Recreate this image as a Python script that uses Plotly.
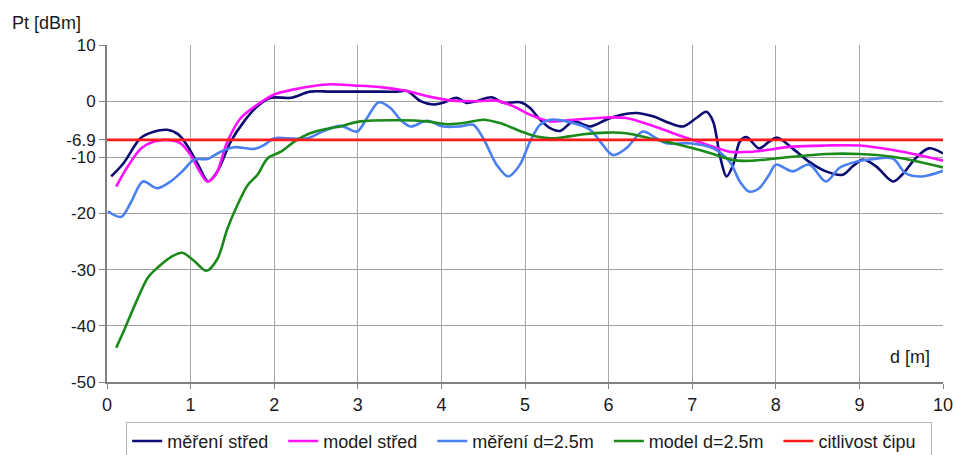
import plotly.graph_objects as go

# Transmit power vs. distance
mereni_stred_x = [0.05, 0.2, 0.4, 0.55, 0.72, 0.86, 0.98, 1.1, 1.21, 1.32, 1.48, 1.64, 1.8, 1.96,
                  2.2, 2.43, 2.67, 2.95, 3.2, 3.47, 3.59, 3.75, 3.9, 4.02, 4.18, 4.3, 4.42, 4.6,
                  4.74, 4.94, 5.06, 5.18, 5.3, 5.42, 5.58, 5.78, 5.97, 6.13, 6.33, 6.53, 6.73,
                  6.89, 7.05, 7.17, 7.25, 7.33, 7.41, 7.49, 7.57, 7.65, 7.8, 7.92, 8.02, 8.2,
                  8.4, 8.6, 8.8, 8.92, 9.04, 9.2, 9.4, 9.51, 9.67, 9.83, 10.0]
mereni_stred_y = [-13.4, -11.0, -6.6, -5.5, -5.1, -6.0, -8.4, -11.6, -14.3, -12.5, -7.2, -3.6, -0.9, 0.6,
                  0.6, 1.7, 1.7, 1.7, 1.7, 1.7, 1.8, 0.0, -0.6, -0.3, 0.6, -0.3, 0.0, 0.7,
                  -0.3, -0.2, -1.2, -3.3, -4.8, -5.3, -3.6, -4.5, -3.3, -2.5, -2.1, -2.7, -3.9,
                  -4.5, -3.0, -1.9, -3.6, -9.6, -13.4, -11.3, -7.2, -6.4, -8.4, -7.2, -6.5, -8.4,
                  -10.8, -12.5, -13.1, -11.6, -10.4, -11.6, -14.3, -13.1, -10.2, -8.4, -9.3]

model_stred_x = [0.11, 0.25, 0.41, 0.56, 0.72, 0.88, 1.0, 1.12, 1.2, 1.3, 1.44, 1.6, 1.8, 2.0,
                 2.24, 2.47, 2.67, 2.95, 3.27, 3.59, 3.83, 4.14, 4.46, 4.66, 4.86, 5.06, 5.3,
                 5.58, 5.97, 6.21, 6.49, 6.77, 7.01, 7.25, 7.45, 7.72, 8.2, 8.6, 9.0, 9.4, 9.71, 10.0]
model_stred_y = [-15.2, -11.6, -8.4, -7.2, -6.9, -7.5, -9.6, -12.8, -14.3, -13.1, -7.2, -3.0, -0.6, 1.2,
                 2.1, 2.7, 3.0, 2.8, 2.5, 1.8, 0.9, 0.1, 0.0, 0.1, -0.9, -2.4, -3.6,
                 -3.3, -2.9, -3.0, -4.2, -5.7, -6.9, -8.1, -9.0, -9.0, -8.1, -7.9, -7.9, -8.7, -9.6, -10.6]

mereni_d25_x = [0.01, 0.17, 0.29, 0.43, 0.6, 0.76, 0.92, 1.04, 1.2, 1.36, 1.52, 1.76, 1.88, 2.0,
                2.16, 2.4, 2.55, 2.79, 2.99, 3.11, 3.25, 3.39, 3.51, 3.63, 3.83, 4.02, 4.22,
                4.38, 4.5, 4.66, 4.8, 4.94, 5.06, 5.18, 5.3, 5.5, 5.78, 5.9, 6.05, 6.21, 6.41,
                6.57, 6.69, 6.97, 7.25, 7.45, 7.57, 7.68, 7.8, 7.92, 8.0, 8.2, 8.4, 8.6, 8.76,
                8.96, 9.12, 9.4, 9.55, 9.75, 10.0]
mereni_d25_y = [-19.6, -20.6, -17.9, -14.3, -15.5, -14.3, -12.2, -10.4, -10.3, -9.0, -8.2, -8.5, -7.8, -6.6,
                -6.6, -6.6, -5.6, -4.4, -5.4, -3.0, -0.2, -1.2, -3.3, -4.5, -3.5, -4.5, -4.5,
                -4.2, -6.6, -11.3, -13.4, -11.3, -7.2, -4.2, -3.3, -3.6, -5.1, -7.2, -9.6, -8.4, -5.4,
                -6.6, -7.5, -7.5, -8.4, -10.8, -14.3, -16.1, -15.5, -13.1, -11.3, -12.5, -11.3, -14.3, -11.9,
                -10.8, -10.4, -10.2, -12.8, -13.4, -12.4]

model_d25_x = [0.11, 0.21, 0.33, 0.49, 0.6, 0.76, 0.9, 1.04, 1.19, 1.32, 1.44, 1.56, 1.68, 1.8,
               1.92, 2.08, 2.24, 2.43, 2.67, 2.79, 3.03, 3.51, 3.83, 4.07, 4.3, 4.5, 4.7, 4.94,
               5.14, 5.3, 5.42, 5.7, 5.97, 6.21, 6.49, 6.77, 7.01, 7.25, 7.49, 7.72, 8.2, 8.6,
               9.0, 9.4, 9.71, 10.0]
model_d25_y = [-43.9, -40.6, -36.4, -31.4, -29.7, -27.8, -27.0, -28.4, -30.2, -28.1, -22.7, -18.5, -15.0, -13.1,
               -10.2, -9.0, -7.2, -5.7, -4.8, -4.5, -3.6, -3.4, -3.6, -4.1, -3.8, -3.3, -3.9, -5.3,
               -6.3, -6.6, -6.5, -5.9, -5.6, -5.7, -6.6, -7.5, -8.4, -9.4, -10.5, -10.6, -9.9, -9.4,
               -9.4, -9.9, -10.8, -11.8]

citlivost_x = [0, 10]
citlivost_y = [-6.9, -6.9]

y_tickvals = [10, 0, -6.9, -10, -20, -30, -40, -50]
y_ticktext = ["10", "0", "-6.9", "-10", "-20", "-30", "-40", "-50"]
x_tickvals = list(range(0, 11))

series = [
    ("měření střed", mereni_stred_x, mereni_stred_y, "#0b0b72", "spline"),
    ("model střed", model_stred_x, model_stred_y, "#ff10ff", "spline"),
    ("měření d=2.5m", mereni_d25_x, mereni_d25_y, "#4a7ff2", "spline"),
    ("model d=2.5m", model_d25_x, model_d25_y, "#1a8a1a", "spline"),
    ("citlivost čipu", citlivost_x, citlivost_y, "#ff1a1a", "linear"),
]

FONT = "Liberation Sans, Arial, sans-serif"
PAD = "\u00a0\u00a0"  # extra room after each legend label

fig = go.Figure()
for name, xs, ys, color, shape in series:
    fig.add_trace(go.Scatter(
        x=xs, y=ys, name=name + PAD, mode="lines",
        line=dict(color=color, width=2.6, shape=shape, smoothing=0.9),
    ))

fig.update_layout(
    width=957, height=455,
    margin=dict(l=107, r=14, t=45, b=73, autoexpand=False),
    paper_bgcolor="white", plot_bgcolor="white",
    font=dict(family=FONT, size=18, color="#1a1a1a"),
    showlegend=True,
    legend=dict(
        orientation="h", x=0.505, xanchor="center", y=-0.118, yanchor="top",
        bordercolor="#b5b5b5", borderwidth=1, bgcolor="white",
        font=dict(family=FONT, size=18, color="#1a1a1a"),
        traceorder="normal",
    ),
    xaxis=dict(
        range=[0, 10], tickvals=x_tickvals, ticks="outside", ticklen=5,
        tickcolor="#808080", showline=True, linecolor="#808080", linewidth=2,
        showgrid=True, gridcolor="#a8a8a8", gridwidth=1, zeroline=False,
        tickfont=dict(size=18), fixedrange=True, automargin=False,
    ),
    yaxis=dict(
        range=[-50, 10], tickvals=y_tickvals, ticktext=y_ticktext, ticks="outside",
        ticklen=6, tickcolor="#808080", showline=True, linecolor="#808080", linewidth=2,
        showgrid=True, gridcolor="#a0a0a0", gridwidth=1, zeroline=False,
        tickfont=dict(size=17), fixedrange=True, automargin=False,
    ),
    annotations=[
        dict(text="Pt [dBm]", xref="paper", yref="paper", x=-0.116, y=1.065,
             xanchor="left", yanchor="middle", showarrow=False, font=dict(size=18)),
        dict(text="d [m]", xref="paper", yref="paper", x=0.987, y=0.073,
             xanchor="right", yanchor="middle", showarrow=False, font=dict(size=18)),
    ],
)

fig.write_html("out.html")
